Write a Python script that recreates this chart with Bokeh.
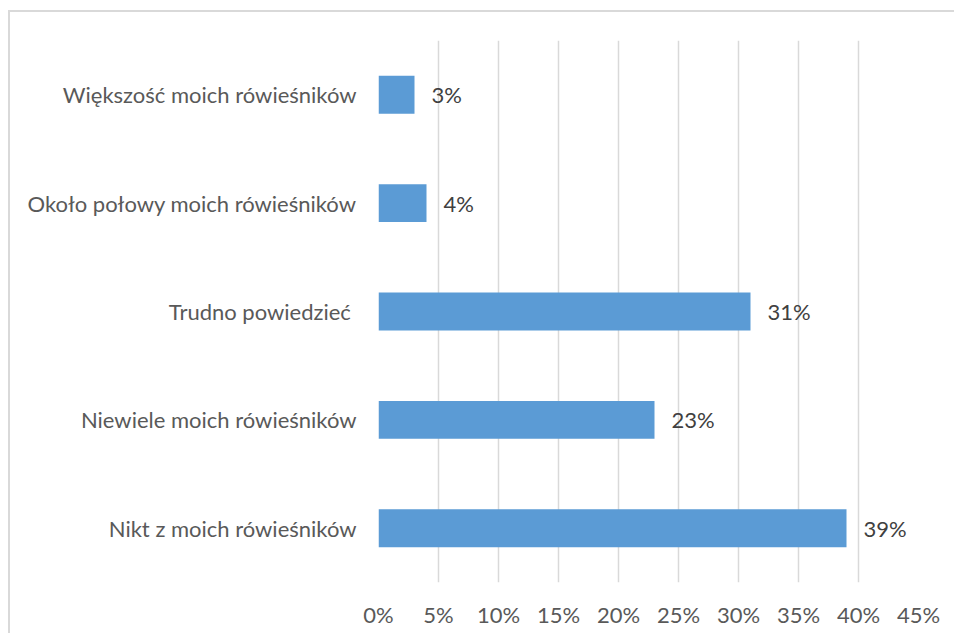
from bokeh.plotting import figure
from bokeh.layouts import column, row
from bokeh.models import FactorRange, ColumnDataSource, FixedTicker, PrintfTickFormatter, Spacer, Div
from bokeh.core.properties import value
from bokeh.embed import file_html
from bokeh.resources import INLINE

categories = [
    "Większość moich rówieśników",
    "Około połowy moich rówieśników",
    "Trudno powiedzieć ",
    "Niewiele moich rówieśników",
    "Nikt z moich rówieśników",
]
values = [3, 4, 31, 23, 39]
labels = ["3%", "4%", "31%", "23%", "39%"]
x_ticks = [0, 5, 10, 15, 20, 25, 30, 35, 40, 45]

FONT = "Lato"
FS = "22px"
src = ColumnDataSource(dict(cat=categories, val=values, lab=labels))

p = figure(
    width=944, height=621,
    y_range=FactorRange(factors=list(reversed(categories))),
    x_range=(0, 45),
    output_backend="svg", toolbar_location=None,
    min_border_left=368, min_border_right=36, min_border_top=28, min_border_bottom=51,
)
p.outline_line_color = None
p.background_fill_color = "white"
p.border_fill_color = "white"

p.hbar(y="cat", right="val", left=0, height=0.35, source=src,
       fill_color="#5B9BD5", line_color=None)
p.text(x="val", y="cat", text="lab", source=src, x_offset=17,
       text_baseline="middle", text_align="left",
       text_font=value(FONT), text_font_size=FS, text_color="#404040")

p.xaxis.ticker = FixedTicker(ticks=x_ticks)
p.xaxis.formatter = PrintfTickFormatter(format="%d%%")
p.xaxis.axis_line_color = None
p.xaxis.major_tick_line_color = None
p.xaxis.minor_tick_line_color = None
p.xaxis.major_tick_out = 0
p.xaxis.major_tick_in = 0
p.xaxis.minor_tick_out = 0
p.xaxis.major_label_standoff = 18
p.xaxis.major_label_text_font = FONT
p.xaxis.major_label_text_font_size = FS
p.xaxis.major_label_text_color = "#595959"

p.yaxis.axis_line_color = None
p.yaxis.major_tick_line_color = None
p.yaxis.minor_tick_line_color = None
p.yaxis.major_tick_out = 0
p.yaxis.major_tick_in = 0
p.yaxis.minor_tick_out = 0
p.yaxis.major_label_standoff = 22
p.yaxis.major_label_text_font = FONT
p.yaxis.major_label_text_font_size = FS
p.yaxis.major_label_text_color = "#595959"

p.xgrid.grid_line_color = "#d9d9d9"
p.xgrid.grid_line_width = 1.5
p.ygrid.grid_line_color = None

top_line = Div(text="", width=946, height=2, margin=(0, 0, 0, 0),
               styles={"background-color": "#d9d9d9"})
left_line = Div(text="", width=2, height=621, margin=(0, 0, 0, 0),
                styles={"background-color": "#d9d9d9"})

layout = column(
    Spacer(width=10, height=10, margin=(0, 0, 0, 0)),
    row(Spacer(width=8, height=10, margin=(0, 0, 0, 0)),
        column(top_line, row(left_line, p))),
)

open("out.html", "w").write(file_html(layout, INLINE))
